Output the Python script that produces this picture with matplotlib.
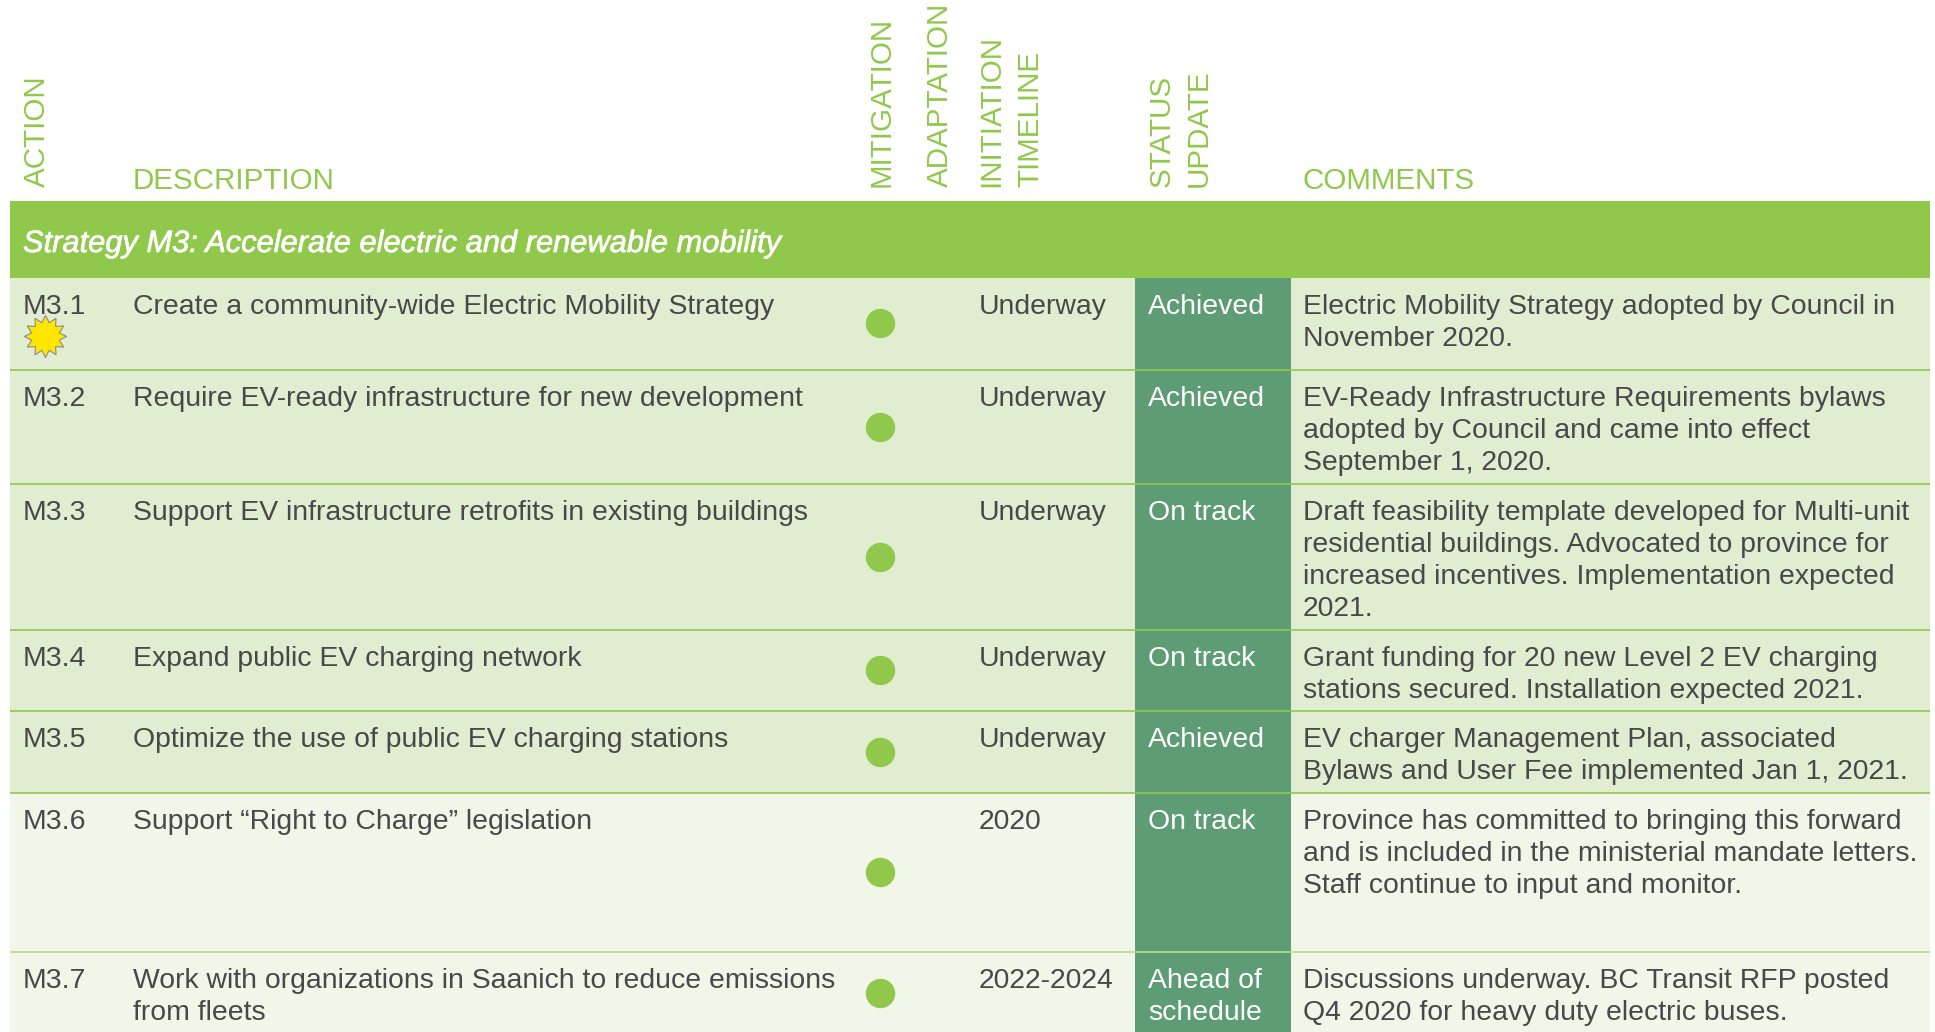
import matplotlib

matplotlib.use("Agg")
from matplotlib import patheffects
from matplotlib import pyplot as plt
from matplotlib.patches import Rectangle
from matplotlib.path import Path

# table content
actions = ["M3.1", "M3.2", "M3.3", "M3.4", "M3.5", "M3.6", "M3.7"]
descriptions = [
    "Create a community-wide Electric Mobility Strategy",
    "Require EV-ready infrastructure for new development",
    "Support EV infrastructure retrofits in existing buildings",
    "Expand public EV charging network",
    "Optimize the use of public EV charging stations",
    "Support “Right to Charge” legislation",
    "Work with organizations in Saanich to reduce emissions\nfrom fleets",
]
timelines = ["Underway", "Underway", "Underway", "Underway", "Underway", "2020", "2022-2024"]
statuses = ["Achieved", "Achieved", "On track", "On track", "Achieved", "On track", "Ahead of\nschedule"]
comments = [
    "Electric Mobility Strategy adopted by Council in\nNovember 2020.",
    "EV-Ready Infrastructure Requirements bylaws\nadopted by Council and came into effect\nSeptember 1, 2020.",
    "Draft feasibility template developed for Multi-unit\nresidential buildings. Advocated to province for\nincreased incentives. Implementation expected\n2021.",
    "Grant funding for 20 new Level 2 EV charging\nstations secured. Installation expected 2021.",
    "EV charger Management Plan, associated\nBylaws and User Fee implemented Jan 1, 2021.",
    "Province has committed to bringing this forward\nand is included in the ministerial mandate letters.\nStaff continue to input and monitor.",
    "Discussions underway. BC Transit RFP posted\nQ4 2020 for heavy duty electric buses.",
]
strategy = "Strategy M3: Accelerate electric and renewable mobility"

# layout in reference pixels
row_edges = [278, 370, 484, 630, 711, 793, 952, 1032]
dot_y = [323, 427, 557, 670, 752, 872, 993]
row_fill = ["#E1EDD0"] * 5 + ["#F1F6E9"] * 2
rotated_headers = [
    ("ACTION", 45),
    ("MITIGATION", 890),
    ("ADAPTATION", 948),
    ("INITIATION", 999),
    ("TIMELINE", 1038),
    ("STATUS", 1170),
    ("UPDATE", 1207),
]
flat_headers = [("DESCRIPTION", 133), ("COMMENTS", 1303)]

GREEN = "#90C84B"
STATUS_GREEN = "#5E9C75"
INK = "#48484A"
BODY_SIZE = 20.4
HEAD_SIZE = 21.3
LINE_PITCH = 32
LEFT = 10
RIGHT = 1930

plt.rcParams["font.family"] = ["Liberation Sans", "DejaVu Sans"]

fig = plt.figure(figsize=(19.35, 10.32), dpi=100)
ax = fig.add_axes([0, 0, 1, 1])
ax.set_xlim(0, 1935)
ax.set_ylim(1032, 0)
ax.axis("off")


def put_lines(x, y, text, color):
    for i, line in enumerate(text.split("\n")):
        ax.text(x, y + i * LINE_PITCH, line, color=color, fontsize=BODY_SIZE, va="baseline", ha="left")


# header
for label, x in rotated_headers:
    ax.text(x, 187, label, color=GREEN, fontsize=HEAD_SIZE, rotation=90,
            rotation_mode="anchor", ha="left", va="baseline")
for label, x in flat_headers:
    ax.text(x, 189, label, color=GREEN, fontsize=HEAD_SIZE, ha="left", va="baseline")

# strategy band
ax.add_patch(Rectangle((LEFT, 201), RIGHT - LEFT, 77, color=GREEN, lw=0))
title = ax.text(23, 252, strategy, color="white", fontsize=22.2, style="italic", va="baseline")
title.set_path_effects([patheffects.withStroke(linewidth=0.5, foreground="white")])

# rows
for i in range(len(actions)):
    top, bottom = row_edges[i], row_edges[i + 1]
    ax.add_patch(Rectangle((LEFT, top), RIGHT - LEFT, bottom - top, color=row_fill[i], lw=0))
    ax.add_patch(Rectangle((1135, top), 156, bottom - top, color=STATUS_GREEN, lw=0))
    if i > 0:
        rule = "#B9DC8C" if i == 6 else GREEN
        ax.plot([LEFT, RIGHT], [top, top], color=rule, lw=1.2, solid_capstyle="butt")
    base = top + 36
    put_lines(23, base, actions[i], INK)
    put_lines(133, base, descriptions[i], INK)
    put_lines(979, base, timelines[i], INK)
    put_lines(1148, base, statuses[i], "white")
    put_lines(1303, base, comments[i], INK)

# mitigation dots
ax.scatter([880] * len(dot_y), dot_y, s=(2 * 14.7 * 0.72) ** 2, color=GREEN, lw=0, zorder=3)

# big move star on M3.1
star = Path.unit_regular_star(12, innerCircle=0.68)
ax.scatter([45], [336], marker=star, s=(2 * 21 * 0.72) ** 2, color="#FFE600",
           edgecolors="#8A8A8A", linewidths=0.8, zorder=3)

fig.savefig("out.png", dpi=100)
